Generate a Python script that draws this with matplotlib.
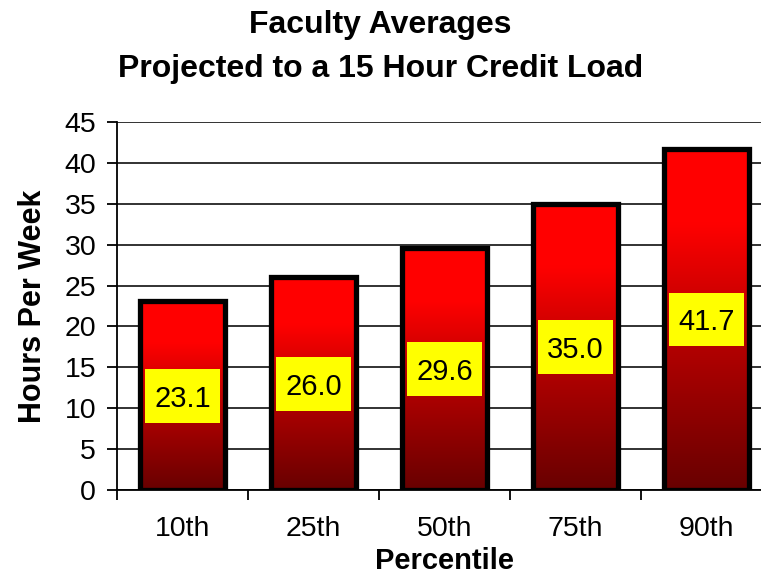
import matplotlib.pyplot as plt
import numpy as np
from matplotlib.colors import LinearSegmentedColormap
from matplotlib.patches import Rectangle

CATEGORIES = ["10th", "25th", "50th", "75th", "90th"]
HOURS = [23.1, 26.0, 29.6, 35.0, 41.7]
Y_TICKS = [0, 5, 10, 15, 20, 25, 30, 35, 40, 45]


def main():
    plt.rcParams["font.family"] = ["Liberation Sans", "DejaVu Sans"]
    fig = plt.figure(figsize=(7.61, 5.79), dpi=100)
    ax = fig.add_axes([117 / 761, 89 / 579, 655 / 761, 368 / 579])

    cmap = LinearSegmentedColormap.from_list(
        "redfade",
        [(0.0, "#680000"), (0.5, "#C00000"), (0.78, "#FF0000"), (1.0, "#FF0000")],
    )
    gradient = np.linspace(0, 1, 256).reshape(-1, 1)

    width = 0.65
    box_w, box_h = 0.565, 6.6
    x = np.arange(len(CATEGORIES))
    for xi, h in zip(x, HOURS):
        x0, x1 = xi - width / 2, xi + width / 2
        im = ax.imshow(
            gradient,
            cmap=cmap,
            origin="lower",
            extent=[x0, x1, 0, h],
            aspect="auto",
            zorder=2,
            interpolation="bicubic",
        )
        rect = Rectangle(
            (x0, 0), width, h, facecolor="none", edgecolor="black",
            linewidth=3.8, zorder=3,
        )
        ax.add_patch(rect)
        im.set_clip_path(rect)
        # yellow value box centred at half the bar height
        ax.add_patch(Rectangle(
            (xi - box_w / 2, h / 2 - box_h / 2), box_w, box_h,
            facecolor="#FFFF00", edgecolor="none", zorder=4,
        ))
        ax.text(xi, h / 2, f"{h:.1f}", ha="center", va="center_baseline",
                fontsize=21, zorder=5)

    ax.set_xlim(-0.5, len(CATEGORIES) - 0.5)
    ax.set_ylim(0, 45)
    ax.set_yticks(Y_TICKS)
    ax.tick_params(axis="y", length=7, width=1.3, labelsize=20.5, pad=8)
    ax.set_xticks(np.arange(len(CATEGORIES) + 1) - 0.5)
    ax.set_xticklabels([])
    ax.set_xticks(x, minor=True)
    ax.set_xticklabels(CATEGORIES, minor=True)
    ax.tick_params(axis="x", which="major", length=7, width=1.3)
    ax.tick_params(axis="x", which="minor", length=0, labelsize=20.5, pad=19)

    ax.grid(axis="y", color="#222222", linewidth=1.3, zorder=1)
    ax.set_axisbelow(True)
    for side in ["top", "right"]:
        ax.spines[side].set_visible(False)
    for side in ["left", "bottom"]:
        ax.spines[side].set_linewidth(1.3)

    ax.set_xlabel("Percentile", fontsize=21, fontweight="bold", labelpad=3)
    ax.set_ylabel("Hours Per Week", fontsize=22, fontweight="bold", labelpad=12)
    fig.text(0.5, 0.983, "Faculty Averages\nProjected to a 15 Hour Credit Load",
             ha="center", va="top", fontsize=23, fontweight="bold",
             linespacing=1.62)

    fig.savefig("out.png", dpi=100)


if __name__ == "__main__":
    main()
